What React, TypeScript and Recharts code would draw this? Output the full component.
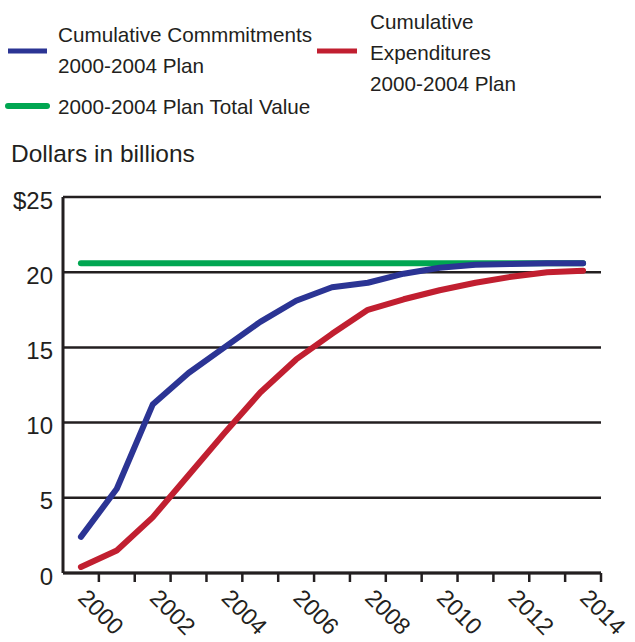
import React from "react";
import { LineChart, Line, XAxis, YAxis, CartesianGrid } from "recharts";

const years = [1999.5, 2000.5, 2001.5, 2002.5, 2003.5, 2004.5, 2005.5, 2006.5, 2007.5, 2008.5, 2009.5, 2010.5, 2011.5, 2012.5, 2013.5];
const commitments = [2.4, 5.6, 11.2, 13.3, 15.0, 16.7, 18.1, 19.0, 19.3, 19.9, 20.3, 20.5, 20.55, 20.6, 20.6];
const expenditures = [0.4, 1.5, 3.7, 6.5, 9.3, 12.0, 14.2, 15.9, 17.5, 18.2, 18.8, 19.3, 19.7, 20.0, 20.1];
const totalValue = [20.6, 20.6, 20.6, 20.6, 20.6, 20.6, 20.6, 20.6, 20.6, 20.6, 20.6, 20.6, 20.6, 20.6, 20.6];
const xTicks = [2000, 2001, 2002, 2003, 2004, 2005, 2006, 2007, 2008, 2009, 2010, 2011, 2012, 2013, 2014];
const yTicks = [0, 5, 10, 15, 20, 25];

const data = years.map((y, i) => ({
  year: y,
  commitments: commitments[i],
  expenditures: expenditures[i],
  total: totalValue[i],
}));

const FONT = "'Liberation Sans', Arial, sans-serif";
const TEXT = "#231f20";
const BLUE = "#2b3494";
const RED = "#c11f30";
const GREEN = "#00a651";

const YTick = (props: any) => {
  const { y, payload } = props;
  const label = payload.value === 25 ? "$25" : String(payload.value);
  return (
    <text x={53} y={y + 3} textAnchor="end" dominantBaseline="central" fontSize={24} fill={TEXT} fontFamily={FONT}>
      {label}
    </text>
  );
};

const XTick = (props: any) => {
  const { x, y, payload } = props;
  if (payload.value % 2 !== 0) return null;
  const cx = x + 2;
  const cy = y + 30;
  return (
    <text
      x={cx}
      y={cy}
      textAnchor="middle"
      dominantBaseline="central"
      fontSize={23.5}
      fill={TEXT}
      fontFamily={FONT}
      transform={`rotate(45, ${cx}, ${cy})`}
    >
      {payload.value}
    </text>
  );
};

export default function App() {
  return (
    <div style={{ position: "absolute", left: 0, top: 0, width: 635, height: 642, background: "#fff" }}>
      <LineChart
        width={635}
        height={642}
        data={data}
        margin={{ top: 197, right: 34, bottom: 9, left: 3 }}
      >
        <CartesianGrid horizontal vertical={false} stroke={TEXT} strokeWidth={2.5} strokeOpacity={1} />
        <XAxis
          dataKey="year"
          type="number"
          domain={[1999, 2014]}
          ticks={xTicks}
          interval={0}
          height={60}
          tickSize={9}
          tickMargin={0}
          tick={<XTick />}
          tickLine={{ stroke: TEXT, strokeWidth: 2.5 }}
          axisLine={{ stroke: TEXT, strokeWidth: 3 }}
        />
        <YAxis
          type="number"
          domain={[0, 25]}
          ticks={yTicks}
          interval={0}
          width={60}
          tickSize={0}
          tickLine={false}
          tick={<YTick />}
          axisLine={{ stroke: TEXT, strokeWidth: 3 }}
        />
        <Line dataKey="total" stroke={GREEN} strokeWidth={6} strokeLinecap="round" dot={false} isAnimationActive={false} />
        <Line dataKey="expenditures" stroke={RED} strokeWidth={6} strokeLinecap="round" strokeLinejoin="round" dot={false} isAnimationActive={false} />
        <Line dataKey="commitments" stroke={BLUE} strokeWidth={6} strokeLinecap="round" strokeLinejoin="round" dot={false} isAnimationActive={false} />
      </LineChart>
      <svg width={635} height={180} style={{ position: "absolute", left: 0, top: 0, pointerEvents: "none" }}>
        <g fontFamily={FONT} fontSize={20.7} fill={TEXT} dominantBaseline="central">
          <line x1={8} x2={47} y1={51} y2={51} stroke={BLUE} strokeWidth={5} />
          <text x={58} y={34}>Cumulative Commmitments</text>
          <text x={58} y={65}>2000-2004 Plan</text>
          <line x1={8} x2={47} y1={106} y2={106} stroke={GREEN} strokeWidth={6} strokeLinecap="round" />
          <text x={58} y={106}>2000-2004 Plan Total Value</text>
          <line x1={317} x2={357} y1={51} y2={51} stroke={RED} strokeWidth={5} />
          <text x={370} y={21}>Cumulative</text>
          <text x={370} y={52}>Expenditures</text>
          <text x={370} y={83}>2000-2004 Plan</text>
          <text x={11} y={153} fontSize={24.5}>Dollars in billions</text>
        </g>
      </svg>
    </div>
  );
}
